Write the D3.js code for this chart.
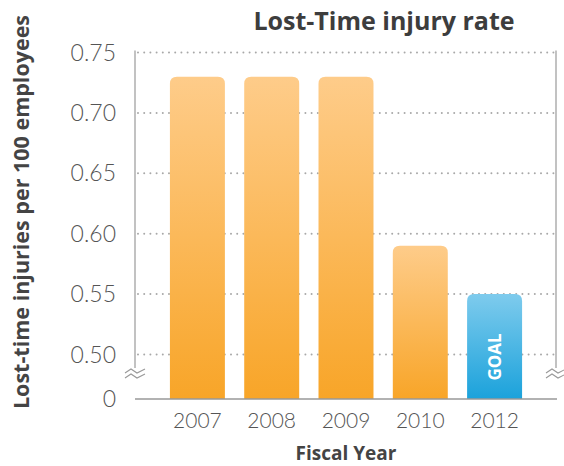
<!DOCTYPE html>
<html lang="en">
<head>
<meta charset="UTF-8">
<title>Lost-Time injury rate</title>
<script src="https://cdn.jsdelivr.net/npm/d3@7"></script>
<style>
  * { margin: 0; padding: 0; }
  body { background: #fff; }
  text { font-family: Lato, "Open Sans", sans-serif; }
  .bold { font-family: "Open Sans", Lato, sans-serif; font-weight: bold; }
</style>
</head>
<body>
<script>
  const width = 564
  const height = 466

  // data
  const years = ['2007', '2008', '2009', '2010', '2012']
  const rates = [0.73, 0.73, 0.73, 0.59, 0.55]
  const isGoal = [false, false, false, false, true]
  const yTicks = [0, 0.50, 0.55, 0.60, 0.65, 0.70, 0.75]
  const yTickLabels = ['0', '0.50', '0.55', '0.60', '0.65', '0.70', '0.75']

  const plot = { left: 135, right: 557, top: 52.5, bottom: 399, breakY: 354.5 }

  const svg = d3.select('body').append('svg')
    .attr('width', width)
    .attr('height', height)

  const defs = svg.append('defs')
  const orange = defs.append('linearGradient').attr('id', 'gOrange')
    .attr('x1', 0).attr('y1', 0).attr('x2', 0).attr('y2', 1)
  orange.append('stop').attr('offset', '0%').attr('stop-color', '#fecc8a')
  orange.append('stop').attr('offset', '100%').attr('stop-color', '#f8a528')
  const blue = defs.append('linearGradient').attr('id', 'gBlue')
    .attr('x1', 0).attr('y1', 0).attr('x2', 0).attr('y2', 1)
  blue.append('stop').attr('offset', '0%').attr('stop-color', '#7ecbed')
  blue.append('stop').attr('offset', '100%').attr('stop-color', '#1ba2db')

  // broken axis: 0 then jump to 0.50
  const y = d3.scaleLinear()
    .domain([0, 0.5, 0.75])
    .range([plot.bottom, plot.breakY, plot.top])

  const x = d3.scaleBand()
    .domain(years)
    .range([plot.left, plot.right])
    .paddingInner(0.26)
    .paddingOuter(0.47)

  // dotted grid lines
  svg.append('g').selectAll('line')
    .data(yTicks.filter(d => d > 0))
    .enter().append('line')
    .attr('x1', plot.left + 3).attr('x2', plot.right)
    .attr('y1', d => y(d)).attr('y2', d => y(d))
    .attr('stroke', '#a8a8a8')
    .attr('stroke-width', 2)
    .attr('stroke-linecap', 'round')
    .attr('stroke-dasharray', '0 6.2')

  // side axis lines (stop at the break)
  const breakMark = 368
  ;[plot.left, plot.right - 1].forEach(xx => {
    svg.append('line')
      .attr('x1', xx).attr('x2', xx)
      .attr('y1', plot.top - 2).attr('y2', breakMark)
      .attr('stroke', '#999').attr('stroke-width', 1.2)
  })

  // zigzag break symbols
  function zig(cx, cy) {
    const w = 10
    return 'M' + (cx - w) + ',' + (cy + 2) + ' L' + (cx - 4) + ',' + (cy - 2) +
      ' L' + (cx + 2) + ',' + (cy + 2) + ' L' + (cx + w) + ',' + (cy - 2)
  }
  ;[plot.left, plot.right - 1].forEach(xx => {
    svg.append('path').attr('d', zig(xx, breakMark + 3))
      .attr('fill', 'none').attr('stroke', '#999').attr('stroke-width', 1.1)
    svg.append('path').attr('d', zig(xx, breakMark + 8))
      .attr('fill', 'none').attr('stroke', '#999').attr('stroke-width', 1.1)
  })

  // bars with rounded tops
  function barPath(x0, w, top, bottom, r) {
    return 'M' + x0 + ',' + bottom +
      ' L' + x0 + ',' + (top + r) +
      ' Q' + x0 + ',' + top + ' ' + (x0 + r) + ',' + top +
      ' L' + (x0 + w - r) + ',' + top +
      ' Q' + (x0 + w) + ',' + top + ' ' + (x0 + w) + ',' + (top + r) +
      ' L' + (x0 + w) + ',' + bottom + ' Z'
  }

  svg.append('g').selectAll('path')
    .data(rates)
    .enter().append('path')
    .attr('d', (d, i) => barPath(x(years[i]), x.bandwidth(), y(d), y(0), 7))
    .attr('fill', (d, i) => isGoal[i] ? 'url(#gBlue)' : 'url(#gOrange)')

  // GOAL label
  rates.forEach((d, i) => {
    if (!isGoal[i]) return
    const cx = x(years[i]) + x.bandwidth() / 2
    const cy = 357
    svg.append('text')
      .attr('class', 'bold')
      .attr('transform', 'translate(' + (cx + 6) + ',' + cy + ') rotate(-90)')
      .attr('text-anchor', 'middle')
      .attr('fill', '#fff')
      .attr('font-size', 17)
      .text('GOAL')
  })

  // baseline
  svg.append('line')
    .attr('x1', plot.left).attr('x2', plot.right)
    .attr('y1', y(0)).attr('y2', y(0))
    .attr('stroke', '#999').attr('stroke-width', 1.5)

  // y tick labels
  svg.append('g').selectAll('text')
    .data(yTicks)
    .enter().append('text')
    .attr('x', 116)
    .attr('y', d => y(d) + 8)
    .attr('text-anchor', 'end')
    .attr('fill', '#555')
    .attr('font-size', 23)
    .attr('font-weight', 300)
    .text((d, i) => yTickLabels[i])

  // x tick labels
  svg.append('g').selectAll('text')
    .data(years)
    .enter().append('text')
    .attr('x', d => x(d) + x.bandwidth() / 2)
    .attr('y', 428)
    .attr('text-anchor', 'middle')
    .attr('fill', '#555')
    .attr('font-size', 21)
    .attr('font-weight', 300)
    .text(d => d)

  // titles
  svg.append('text')
    .attr('class', 'bold')
    .attr('x', 384).attr('y', 30)
    .attr('text-anchor', 'middle')
    .attr('fill', '#3d3d3d')
    .attr('font-size', 25)
    .text('Lost-Time injury rate')

  svg.append('text')
    .attr('class', 'bold')
    .attr('x', 346).attr('y', 460)
    .attr('text-anchor', 'middle')
    .attr('fill', '#444')
    .attr('font-size', 19)
    .text('Fiscal Year')

  svg.append('text')
    .attr('class', 'bold')
    .attr('transform', 'translate(29,212) rotate(-90)')
    .attr('text-anchor', 'middle')
    .attr('fill', '#444')
    .attr('font-size', 21.5)
    .text('Lost-time injuries per 100 employees')
</script>
</body>
</html>
